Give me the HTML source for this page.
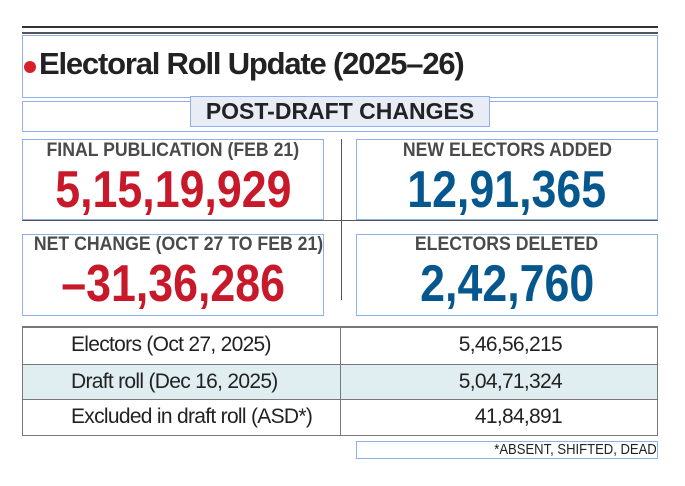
<!DOCTYPE html>
<html><head><meta charset="utf-8"><style>
body{margin:0;background:#fff;}
#c{position:relative;width:685px;height:486px;overflow:hidden;font-family:"Liberation Sans",sans-serif;background:#fff;}
.a{position:absolute;box-sizing:border-box;}
.bx{border:1px solid #8fb0ea;}
.ctr{text-align:center;white-space:nowrap;}
.sq{display:inline-block;transform-origin:center;}
.lab{font-weight:bold;color:#4a4a4a;font-size:19px;}
.num{font-weight:bold;font-size:52px;line-height:52px;}
.red{color:#c8192a}.blue{color:#07578f}
.rt{font-size:21px;color:#222;line-height:34px;letter-spacing:-0.7px}
</style></head><body>
<div id="c">
<div class="a" style="left:22px;top:26px;width:636px;height:2px;background:#333"></div>
<div class="a" style="left:22px;top:32px;width:636px;height:2px;background:#555"></div>
<div class="a bx" style="left:22px;top:35px;width:636px;height:63px"></div>
<div class="a" style="left:24px;top:61px;width:12px;height:12px;border-radius:50%;background:#d8202a"></div>
<div class="a" style="left:39px;top:46px;font-size:31px;font-weight:bold;color:#222;white-space:nowrap;letter-spacing:-1.2px">Electoral Roll Update (2025–26)</div>
<div class="a bx" style="left:22px;top:101px;width:636px;height:31px"></div>
<div class="a ctr" style="left:190px;top:96px;width:300px;height:31px;background:#e8edf5;border:1px solid #8fb0ea;font-size:23px;font-weight:bold;color:#222;line-height:29px"><span class="sq" style="transform:scaleX(1.0)">POST-DRAFT CHANGES</span></div>

<div class="a" style="left:341px;top:139px;width:1px;height:161px;background:#555"></div>
<div class="a" style="left:22px;top:220px;width:636px;height:1px;background:#555"></div>

<div class="a bx ctr" style="left:22px;top:139px;width:302px;height:81px">
<div class="lab" style="line-height:22px"><span class="sq" style="transform:scaleX(0.93)">FINAL PUBLICATION (FEB 21)</span></div>
<div class="num red" style="margin-top:2px"><span class="sq" style="transform:scaleX(0.86)">5,15,19,929</span></div></div>

<div class="a bx ctr" style="left:356px;top:139px;width:302px;height:81px">
<div class="lab" style="line-height:22px"><span class="sq" style="transform:scaleX(0.93)">NEW ELECTORS ADDED</span></div>
<div class="num blue" style="margin-top:2px"><span class="sq" style="transform:scaleX(0.86)">12,91,365</span></div></div>

<div class="a bx ctr" style="left:22px;top:234px;width:302px;height:82px">
<div class="lab" style="line-height:20px"><span class="sq" style="transform:scaleX(0.93)">NET CHANGE (OCT 27 TO FEB 21)</span></div>
<div class="num red" style="margin-top:3px"><span class="sq" style="transform:scaleX(0.86)">–31,36,286</span></div></div>

<div class="a bx ctr" style="left:356px;top:234px;width:302px;height:82px">
<div class="lab" style="line-height:20px"><span class="sq" style="transform:scaleX(0.93)">ELECTORS DELETED</span></div>
<div class="num blue" style="margin-top:3px"><span class="sq" style="transform:scaleX(0.86)">2,42,760</span></div></div>

<div class="a" style="left:22px;top:326px;width:636px;height:110px;border:1px solid #777;border-top:2px solid #777">
<div class="a" style="left:317px;top:0;width:1px;height:108px;background:#777"></div>
<div class="a rt" style="left:0;top:0;width:634px;height:36px"><span style="position:absolute;left:48px">Electors (Oct 27, 2025)</span><span style="position:absolute;right:95px">5,46,56,215</span></div>
<div class="a rt" style="left:0;top:36px;width:634px;height:36px;background:#e0eef2;border-top:1px solid #777;border-bottom:1px solid #777"><div class="a" style="left:317px;top:0;width:1px;height:36px;background:#777"></div><span style="position:absolute;left:48px">Draft roll (Dec 16, 2025)</span><span style="position:absolute;right:95px">5,04,71,324</span></div>
<div class="a rt" style="left:0;top:72px;width:634px;height:36px"><span style="position:absolute;left:48px">Excluded in draft roll (ASD*)</span><span style="position:absolute;right:95px">41,84,891</span></div>
</div>

<div class="a bx" style="left:356px;top:441px;width:302px;height:18px;font-size:15px;color:#222;text-align:right;line-height:16px;white-space:nowrap"><span class="sq" style="transform:scaleX(0.87);transform-origin:right">*ABSENT, SHIFTED, DEAD</span></div>
</div>
</body></html>
